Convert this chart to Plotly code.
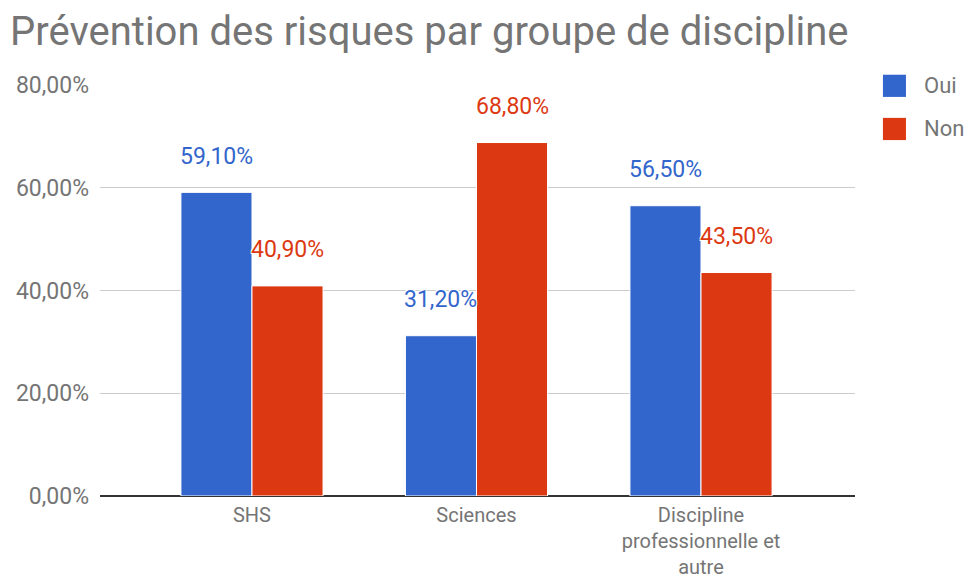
import plotly.graph_objects as go

categories = ["SHS", "Sciences", "Discipline<br>professionnelle et<br>autre"]
series_names = ["Oui", "Non"]
oui_values = [59.1, 31.2, 56.5]
non_values = [40.9, 68.8, 43.5]
y_ticks = [0, 20, 40, 60, 80]
y_tick_labels = ["0,00%", "20,00%", "40,00%", "60,00%", "80,00%"]

BLUE = "#3366cc"
RED = "#dc3912"
GRAY = "#757575"
FONT = "Roboto"
BARGAP = 0.367

# the page body has an 8px default margin, so the figure is sized to the visible area
W, H = 966, 570

def fr(v):
    return f"{v:.2f}".replace(".", ",") + "%"

fig = go.Figure()
for name, vals, col in [(series_names[0], oui_values, BLUE), (series_names[1], non_values, RED)]:
    fig.add_trace(go.Bar(
        name=name, x=list(range(len(categories))), y=vals,
        marker=dict(color=col, line=dict(color="white", width=1)),
        showlegend=False, hoverinfo="skip",
    ))

half = (1 - BARGAP) / 4
annotations = []
for i in range(len(categories)):
    for vals, col, off in [(oui_values, BLUE, -half), (non_values, RED, half)]:
        annotations.append(dict(
            x=i + off, y=vals[i], xref="x", yref="y", text=fr(vals[i]),
            showarrow=False, yshift=36,
            font=dict(family=FONT, size=23, color=col,
                      shadow="1px 1px 0 white, -1px -1px 0 white, 1px -1px 0 white, -1px 1px 0 white"),
        ))

# manual legend
shapes = []
for k, (name, col) in enumerate(zip(series_names, [BLUE, RED])):
    yc = 0.998 - k * 0.105
    shapes.append(dict(type="rect", xref="paper", yref="paper",
                       x0=1.037, x1=1.0675, y0=yc - 0.027, y1=yc + 0.027,
                       fillcolor=col, line=dict(width=0)))
    annotations.append(dict(xref="paper", yref="paper", x=1.089, y=yc, text=name,
                            showarrow=False, xanchor="left", yanchor="middle",
                            font=dict(family=FONT, size=22, color=GRAY)))

fig.update_layout(
    width=W, height=H,
    margin=dict(l=92, r=119, t=77, b=82, autoexpand=False),
    paper_bgcolor="white", plot_bgcolor="white",
    barmode="group", bargap=BARGAP, bargroupgap=0.0,
    title=dict(text="Prévention des risques par groupe de discipline",
               x=2 / W, xanchor="left", xref="container",
               y=0.985, yanchor="top", yref="container",
               font=dict(family=FONT, size=40, color=GRAY)),
    font=dict(family=FONT, size=23, color=GRAY),
    xaxis=dict(tickmode="array", tickvals=list(range(len(categories))), ticktext=categories,
               range=[-0.677, 2.686], showgrid=False, zeroline=False, showline=False,
               ticks="", ticklabelstandoff=5,
               tickfont=dict(family=FONT, size=20, color=GRAY)),
    yaxis=dict(range=[0, 80], tickvals=y_ticks, ticktext=y_tick_labels,
               showgrid=True, gridcolor="#cccccc", gridwidth=1,
               zeroline=True, zerolinecolor="#333333", zerolinewidth=2,
               ticks="", ticklabelstandoff=10,
               tickfont=dict(family=FONT, size=23, color=GRAY)),
    annotations=annotations, shapes=shapes,
)
fig.update_xaxes(fixedrange=True)
fig.update_yaxes(fixedrange=True)

fig.write_html("out.html")
